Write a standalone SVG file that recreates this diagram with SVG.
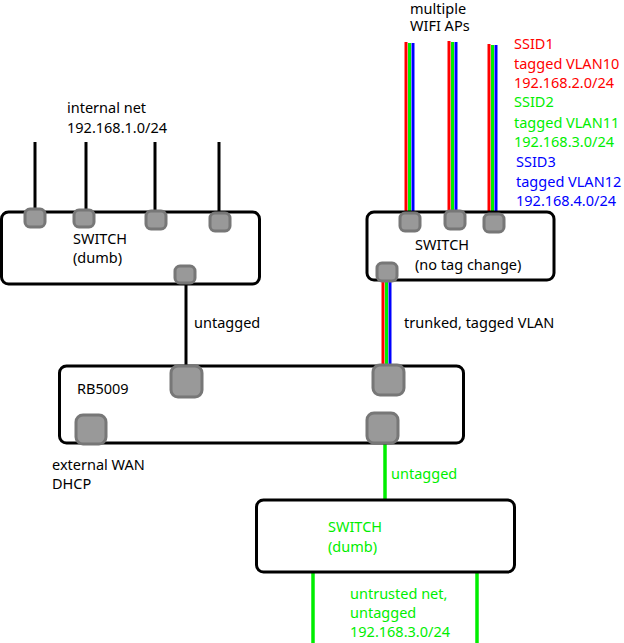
<svg xmlns="http://www.w3.org/2000/svg" width="624" height="643" viewBox="0 0 624 643">
<style>
text{font-family:"Noto Sans","Open Sans",sans-serif;font-size:14.5px}
.box{fill:#fff;stroke:#000;stroke-width:3}
.port{fill:#999;stroke:#777;stroke-width:3}
.k{stroke:#000;stroke-width:3}
.r{stroke:#f00;stroke-width:3}.g{stroke:#0e0;stroke-width:3}.b{stroke:#00f;stroke-width:3}
.G{stroke:#0e0;stroke-width:3.5}
</style>
<rect width="624" height="643" fill="#fff"/>
<g id="connectors">
<line class="k" x1="35" y1="142" x2="35" y2="212"/>
<line class="k" x1="86" y1="142" x2="86" y2="212"/>
<line class="k" x1="155" y1="142" x2="155" y2="212"/>
<line class="k" x1="219" y1="142" x2="219" y2="212"/>
<line class="k" x1="186" y1="276" x2="186" y2="368"/>
<line class="r" x1="406" y1="42" x2="406" y2="214"/><line class="g" x1="409.5" y1="43" x2="409.5" y2="214"/><line class="b" x1="413" y1="43" x2="413" y2="214"/>
<line class="r" x1="449" y1="41" x2="449" y2="214"/><line class="g" x1="452.5" y1="42" x2="452.5" y2="214"/><line class="b" x1="456" y1="42" x2="456" y2="214"/>
<line class="r" x1="489" y1="44" x2="489" y2="214"/><line class="g" x1="492.5" y1="45" x2="492.5" y2="214"/><line class="b" x1="496" y1="45" x2="496" y2="214"/>
<line class="r" x1="383" y1="276" x2="383" y2="368"/><line class="g" x1="386.5" y1="276" x2="386.5" y2="368"/><line class="b" x1="390" y1="276" x2="390" y2="368"/>
<line class="G" x1="385" y1="440" x2="385" y2="502"/>
<line class="G" x1="313" y1="570" x2="313" y2="643"/>
<line class="G" x1="477" y1="570" x2="477" y2="643"/>
</g>
<g id="switch1">
<rect class="box" x="1.5" y="212" width="258" height="72" rx="7"/>
<rect class="port" x="25" y="209" width="20" height="18" rx="5"/>
<rect class="port" x="74" y="210" width="20" height="17" rx="5"/>
<rect class="port" x="146" y="211" width="20" height="18" rx="5"/>
<rect class="port" x="210" y="213" width="20" height="18" rx="5"/>
<rect class="port" x="175" y="266" width="20" height="17" rx="5"/>
<text x="73" y="244">SWITCH</text><text x="73" y="263">(dumb)</text>
</g>
<g id="switch2">
<rect class="box" x="367" y="212" width="187" height="68" rx="7"/>
<rect class="port" x="400" y="213" width="20" height="18" rx="5"/>
<rect class="port" x="445" y="211" width="20" height="18" rx="5"/>
<rect class="port" x="484" y="214" width="20" height="18" rx="5"/>
<rect class="port" x="377" y="263" width="20" height="18" rx="5"/>
<text x="415" y="250">SWITCH</text><text x="415" y="270">(no tag change)</text>
</g>
<g id="rb5009">
<rect class="box" x="59.5" y="366" width="404" height="77" rx="7"/>
<rect class="port" x="171" y="366" width="31" height="31" rx="7"/>
<rect class="port" x="373" y="365" width="31" height="30" rx="7"/>
<rect class="port" x="76" y="415" width="30" height="29" rx="7"/>
<rect class="port" x="367" y="413" width="31" height="30" rx="7"/>
<text x="77" y="394">RB5009</text>
</g>
<g id="switch3">
<rect class="box" x="256.5" y="500" width="258" height="72" rx="7"/>
<text x="328" y="532" fill="#0e0">SWITCH</text><text x="328" y="552" fill="#0e0">(dumb)</text>
</g>
<g id="labels">
<text x="67" y="113">internal net</text><text x="67" y="133">192.168.1.0/24</text>
<text x="410" y="14">multiple</text><text x="410" y="31">WIFI APs</text>
<g fill="#f00"><text x="514" y="49">SSID1</text><text x="514" y="69">tagged VLAN10</text><text x="514" y="88">192.168.2.0/24</text></g>
<g fill="#0e0"><text x="514" y="107">SSID2</text><text x="514" y="128">tagged VLAN11</text><text x="514" y="147">192.168.3.0/24</text></g>
<g fill="#00f"><text x="516" y="167">SSID3</text><text x="516" y="187">tagged VLAN12</text><text x="516" y="206">192.168.4.0/24</text></g>
<text x="194" y="328">untagged</text>
<text x="404" y="328">trunked, tagged VLAN</text>
<text x="52" y="470">external WAN</text><text x="52" y="489">DHCP</text>
<text x="391" y="479" fill="#0e0">untagged</text>
<g fill="#0e0"><text x="350" y="599">untrusted net,</text><text x="350" y="618">untagged</text><text x="350" y="637">192.168.3.0/24</text></g>
</g>
</svg>
